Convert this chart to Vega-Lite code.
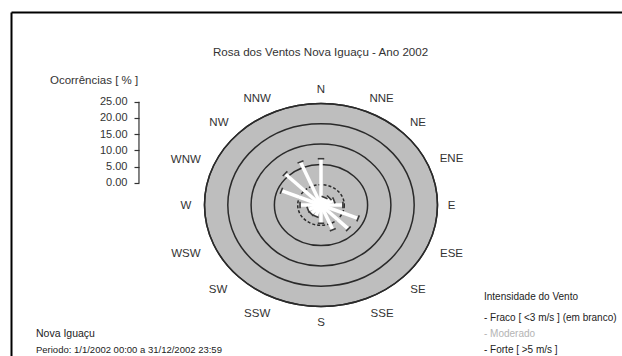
{
  "$schema": "https://vega.github.io/schema/vega-lite/v6.json",
  "width": 611,
  "height": 344,
  "autosize": {"type": "none"},
  "padding": {"left": 11, "top": 12, "right": 0, "bottom": 0},
  "background": "white",
  "config": {
    "font": "Liberation Sans",
    "view": {"stroke": null},
    "text": {"font": "Liberation Sans"}
  },
  "datasets": {
    "aneis": [{"anel": 5}, {"anel": 10}, {"anel": 15}, {"anel": 20}, {"anel": 25}],
    "ventos": [
      {"direcao": "N", "graus": 0, "pct": 11.4, "leste": 0, "norte": 11.4},
      {"direcao": "NNE", "graus": 22.5, "pct": 2.0, "leste": 0.77, "norte": 1.85},
      {"direcao": "NE", "graus": 45, "pct": 2.5, "leste": 1.77, "norte": 1.77},
      {"direcao": "ENE", "graus": 67.5, "pct": 3.0, "leste": 2.77, "norte": 1.15},
      {"direcao": "E", "graus": 90, "pct": 4.7, "leste": 4.7, "norte": 0},
      {"direcao": "ESE", "graus": 112.5, "pct": 8.6, "leste": 7.95, "norte": -3.29},
      {"direcao": "SE", "graus": 135, "pct": 8.3, "leste": 5.87, "norte": -5.87},
      {"direcao": "SSE", "graus": 157.5, "pct": 6.6, "leste": 2.53, "norte": -6.1},
      {"direcao": "S", "graus": 180, "pct": 4.5, "leste": 0, "norte": -4.5},
      {"direcao": "SSW", "graus": 202.5, "pct": 3.0, "leste": -1.15, "norte": -2.77},
      {"direcao": "SW", "graus": 225, "pct": 3.0, "leste": -2.12, "norte": -2.12},
      {"direcao": "WSW", "graus": 247.5, "pct": 3.0, "leste": -2.77, "norte": -1.15},
      {"direcao": "W", "graus": 270, "pct": 4.5, "leste": -4.5, "norte": 0},
      {"direcao": "WNW", "graus": 292.5, "pct": 9.2, "leste": -8.5, "norte": 3.52},
      {"direcao": "NW", "graus": 315, "pct": 10.9, "leste": -7.71, "norte": 7.71},
      {"direcao": "NNW", "graus": 337.5, "pct": 11.5, "leste": -4.4, "norte": 10.62}
    ],
    "rotulos": [
      {"direcao": "N", "x": 0, "y": 28.3},
      {"direcao": "NNE", "x": 13.0, "y": 26.0},
      {"direcao": "NE", "x": 20.8, "y": 20.2},
      {"direcao": "ENE", "x": 28.0, "y": 11.3},
      {"direcao": "E", "x": 28.0, "y": -0.3},
      {"direcao": "ESE", "x": 28.0, "y": -12.1},
      {"direcao": "SE", "x": 20.8, "y": -20.9},
      {"direcao": "SSE", "x": 13.1, "y": -26.8},
      {"direcao": "S", "x": 0, "y": -29.1},
      {"direcao": "SSW", "x": -13.7, "y": -26.8},
      {"direcao": "SW", "x": -22.1, "y": -20.9},
      {"direcao": "WSW", "x": -29.0, "y": -12.1},
      {"direcao": "W", "x": -29.0, "y": -0.3},
      {"direcao": "WNW", "x": -29.0, "y": 11.1},
      {"direcao": "NW", "x": -21.9, "y": 20.2},
      {"direcao": "NNW", "x": -13.7, "y": 26.1}
    ],
    "escala": [{"valor": 0}, {"valor": 5}, {"valor": 10}, {"valor": 15}, {"valor": 20}, {"valor": 25}],
    "intensidades": [
      {"classe": "- Fraco [ <3 m/s ] (em branco)"},
      {"classe": "- Moderado"},
      {"classe": "- Forte [ >5 m/s ]"}
    ]
  },
  "resolve": {"scale": {"y": "independent"}},
  "layer": [
    {
      "data": {"name": "aneis"},
      "transform": [{"filter": "datum.anel == 25"}],
      "mark": {"type": "point", "shape": "M 1 0 C 1 0.4812 0.5523 0.8712 0 0.8712 C -0.5523 0.8712 -1 0.4812 -1 0 C -1 -0.4812 -0.5523 -0.8712 0 -0.8712 C 0.5523 -0.8712 1 -0.4812 1 0 Z", "filled": true, "fill": "#bebebe", "stroke": "#2a2a2a", "strokeWidth": 1.5, "opacity": 1},
      "encoding": {
        "x": {"datum": 0, "type": "quantitative", "scale": {"domain": [-66.52, 64.59], "nice": false, "zero": false}, "axis": {"orient": "top", "domain": true, "domainColor": "#000000", "domainWidth": 2, "ticks": false, "labels": false, "grid": false, "title": null}},
        "y": {"datum": 0, "type": "quantitative", "scale": {"domain": [-37.19, 47.54], "nice": false, "zero": false}, "axis": {"orient": "left", "domain": true, "domainColor": "#000000", "domainWidth": 2, "ticks": false, "labels": false, "grid": false, "title": null}},
        "size": {"field": "anel", "type": "quantitative", "scale": {"type": "pow", "exponent": 2, "domain": [0, 25], "range": [0, 54289]}, "legend": null}
      }
    },
    {
      "data": {"name": "aneis"},
      "transform": [{"filter": "datum.anel > 5"}],
      "mark": {"type": "point", "shape": "M 1 0 C 1 0.4812 0.5523 0.8712 0 0.8712 C -0.5523 0.8712 -1 0.4812 -1 0 C -1 -0.4812 -0.5523 -0.8712 0 -0.8712 C 0.5523 -0.8712 1 -0.4812 1 0 Z", "filled": false, "stroke": "#2a2a2a", "strokeWidth": 1.5, "opacity": 1},
      "encoding": {
        "x": {"datum": 0, "type": "quantitative", "scale": {"domain": [-66.52, 64.59], "nice": false, "zero": false}, "axis": {"orient": "top", "domain": true, "domainColor": "#000000", "domainWidth": 2, "ticks": false, "labels": false, "grid": false, "title": null}},
        "y": {"datum": 0, "type": "quantitative", "scale": {"domain": [-37.19, 47.54], "nice": false, "zero": false}, "axis": null},
        "size": {"field": "anel", "type": "quantitative", "scale": {"type": "pow", "exponent": 2, "domain": [0, 25], "range": [0, 54289]}, "legend": null}
      }
    },
    {
      "data": {"name": "aneis"},
      "transform": [{"filter": "datum.anel == 5"}],
      "mark": {"type": "point", "shape": "M 1 0 C 1 0.4812 0.5523 0.8712 0 0.8712 C -0.5523 0.8712 -1 0.4812 -1 0 C -1 -0.4812 -0.5523 -0.8712 0 -0.8712 C 0.5523 -0.8712 1 -0.4812 1 0 Z", "filled": false, "stroke": "#2a2a2a", "strokeWidth": 1.5, "strokeDash": [3, 2], "opacity": 1},
      "encoding": {
        "x": {"datum": 0, "type": "quantitative", "scale": {"domain": [-66.52, 64.59], "nice": false, "zero": false}, "axis": {"orient": "top", "domain": true, "domainColor": "#000000", "domainWidth": 2, "ticks": false, "labels": false, "grid": false, "title": null}},
        "y": {"datum": 0, "type": "quantitative", "scale": {"domain": [-37.19, 47.54], "nice": false, "zero": false}, "axis": null},
        "size": {"field": "anel", "type": "quantitative", "scale": {"type": "pow", "exponent": 2, "domain": [0, 25], "range": [0, 54289]}, "legend": null}
      }
    },
    {
      "data": {"name": "ventos"},
      "mark": {"type": "rule", "strokeWidth": 3.5, "stroke": "#ffffff"},
      "encoding": {
        "x": {"field": "leste", "type": "quantitative", "scale": {"domain": [-66.52, 64.59], "nice": false, "zero": false}, "axis": {"orient": "top", "domain": true, "domainColor": "#000000", "domainWidth": 2, "ticks": false, "labels": false, "grid": false, "title": null}},
        "y": {"field": "norte", "type": "quantitative", "scale": {"domain": [-37.19, 47.54], "nice": false, "zero": false}, "axis": null},
        "x2": {"datum": 0},
        "y2": {"datum": 0}
      }
    },
    {
      "data": {"name": "ventos"},
      "mark": {"type": "point", "shape": "stroke", "filled": false, "stroke": "#3a3a3a", "strokeWidth": 1.6, "size": 42, "opacity": 1},
      "encoding": {
        "x": {"field": "leste", "type": "quantitative", "scale": {"domain": [-66.52, 64.59], "nice": false, "zero": false}, "axis": {"orient": "top", "domain": true, "domainColor": "#000000", "domainWidth": 2, "ticks": false, "labels": false, "grid": false, "title": null}},
        "y": {"field": "norte", "type": "quantitative", "scale": {"domain": [-37.19, 47.54], "nice": false, "zero": false}, "axis": null},
        "angle": {"field": "graus", "type": "quantitative", "scale": {"domain": [0, 360], "range": [0, 360]}, "legend": null}
      }
    },
    {
      "data": {"values": [{"calmaria": "centro"}]},
      "mark": {"type": "point", "shape": "circle", "filled": true, "fill": "#ffffff", "size": 190, "opacity": 1, "strokeWidth": 0},
      "encoding": {
        "x": {"datum": 0, "type": "quantitative", "scale": {"domain": [-66.52, 64.59], "nice": false, "zero": false}, "axis": {"orient": "top", "domain": true, "domainColor": "#000000", "domainWidth": 2, "ticks": false, "labels": false, "grid": false, "title": null}},
        "y": {"datum": 0, "type": "quantitative", "scale": {"domain": [-37.19, 47.54], "nice": false, "zero": false}, "axis": null}
      }
    },
    {
      "data": {"name": "rotulos"},
      "mark": {"type": "text", "fontSize": 11.5, "fill": "#333333", "align": "center", "baseline": "middle"},
      "encoding": {
        "x": {"field": "x", "type": "quantitative", "scale": {"domain": [-66.52, 64.59], "nice": false, "zero": false}, "axis": {"orient": "top", "domain": true, "domainColor": "#000000", "domainWidth": 2, "ticks": false, "labels": false, "grid": false, "title": null}},
        "y": {"field": "y", "type": "quantitative", "scale": {"domain": [-37.19, 47.54], "nice": false, "zero": false}, "axis": null},
        "text": {"field": "direcao"}
      }
    },
    {
      "data": {"values": [{"texto": "Rosa dos Ventos Nova Iguaçu - Ano 2002"}]},
      "mark": {"type": "text", "fontSize": 11.6, "fill": "#333333", "align": "center", "baseline": "middle"},
      "encoding": {
        "x": {"datum": -0.1, "type": "quantitative", "scale": {"domain": [-66.52, 64.59], "nice": false, "zero": false}, "axis": {"orient": "top", "domain": true, "domainColor": "#000000", "domainWidth": 2, "ticks": false, "labels": false, "grid": false, "title": null}},
        "y": {"datum": 37.5, "type": "quantitative", "scale": {"domain": [-37.19, 47.54], "nice": false, "zero": false}, "axis": null},
        "text": {"field": "texto"}
      }
    },
    {
      "data": {"values": [{"texto": "Ocorrências [ % ]"}]},
      "mark": {"type": "text", "fontSize": 11.5, "fill": "#333333", "align": "center", "baseline": "middle"},
      "encoding": {
        "x": {"datum": -48.7, "type": "quantitative", "scale": {"domain": [-66.52, 64.59], "nice": false, "zero": false}, "axis": {"orient": "top", "domain": true, "domainColor": "#000000", "domainWidth": 2, "ticks": false, "labels": false, "grid": false, "title": null}},
        "y": {"datum": 30.6, "type": "quantitative", "scale": {"domain": [-37.19, 47.54], "nice": false, "zero": false}, "axis": null},
        "text": {"field": "texto"}
      }
    },
    {
      "data": {"values": [{"texto": "Nova Iguaçu"}]},
      "mark": {"type": "text", "fontSize": 10.5, "fill": "#222222", "align": "left", "baseline": "middle"},
      "encoding": {
        "x": {"datum": -61.16, "type": "quantitative", "scale": {"domain": [-66.52, 64.59], "nice": false, "zero": false}, "axis": {"orient": "top", "domain": true, "domainColor": "#000000", "domainWidth": 2, "ticks": false, "labels": false, "grid": false, "title": null}},
        "y": {"datum": -31.8, "type": "quantitative", "scale": {"domain": [-37.19, 47.54], "nice": false, "zero": false}, "axis": null},
        "text": {"field": "texto"}
      }
    },
    {
      "data": {"values": [{"texto": "Periodo: 1/1/2002 00:00 a 31/12/2002 23:59"}]},
      "mark": {"type": "text", "fontSize": 9.5, "fill": "#222222", "align": "left", "baseline": "middle"},
      "encoding": {
        "x": {"datum": -61.16, "type": "quantitative", "scale": {"domain": [-66.52, 64.59], "nice": false, "zero": false}, "axis": {"orient": "top", "domain": true, "domainColor": "#000000", "domainWidth": 2, "ticks": false, "labels": false, "grid": false, "title": null}},
        "y": {"datum": -35.6, "type": "quantitative", "scale": {"domain": [-37.19, 47.54], "nice": false, "zero": false}, "axis": null},
        "text": {"field": "texto"}
      }
    },
    {
      "data": {"name": "intensidades"},
      "mark": {"type": "point", "opacity": 0},
      "encoding": {
        "x": {"datum": 0, "type": "quantitative", "scale": {"domain": [-66.52, 64.59], "nice": false, "zero": false}, "axis": {"orient": "top", "domain": true, "domainColor": "#000000", "domainWidth": 2, "ticks": false, "labels": false, "grid": false, "title": null}},
        "y": {"datum": 0, "type": "quantitative", "scale": {"domain": [-37.19, 47.54], "nice": false, "zero": false}, "axis": null},
        "color": {
          "field": "classe",
          "type": "nominal",
          "sort": null,
          "scale": {"domain": ["- Fraco [ <3 m/s ] (em branco)", "- Moderado", "- Forte [ >5 m/s ]"], "range": ["#ffffff", "#bebebe", "#3a3a3a"]},
          "legend": {
            "title": "Intensidade do Vento",
            "orient": "none",
            "legendX": 473,
            "legendY": 280,
            "padding": 0,
            "titleFontSize": 10,
            "titleFontWeight": "normal",
            "titleColor": "#222222",
            "titleFont": "Liberation Sans",
            "titlePadding": 11,
            "labelFont": "Liberation Sans",
            "labelFontSize": 10,
            "labelColor": {"expr": "datum.label == '- Moderado' ? '#b4b4b4' : '#222222'"},
            "labelLimit": 300,
            "labelOffset": -10,
            "symbolOpacity": 0,
            "symbolSize": 0,
            "symbolStrokeWidth": 0,
            "rowPadding": 6
          }
        }
      }
    },
    {
      "data": {"name": "escala"},
      "mark": {"type": "point", "opacity": 0},
      "encoding": {
        "x": {"datum": -39.06, "type": "quantitative", "scale": {"domain": [-66.52, 64.59], "nice": false, "zero": false}, "axis": {"orient": "top", "domain": true, "domainColor": "#000000", "domainWidth": 2, "ticks": false, "labels": false, "grid": false, "title": null}},
        "y": {
          "field": "valor",
          "type": "quantitative",
          "scale": {"domain": [-53.23, 52.6], "nice": false, "zero": false},
          "axis": {
            "orient": "left",
            "offset": -128,
            "values": [0, 5, 10, 15, 20, 25],
            "format": ".2f",
            "domain": false,
            "grid": false,
            "ticks": true,
            "tickSize": 5,
            "tickColor": "#333333",
            "tickWidth": 1.2,
            "labelColor": "#333333",
            "labelFont": "Liberation Sans",
            "labelFontSize": 11,
            "labelPadding": 7,
            "title": null
          }
        }
      }
    },
    {
      "data": {"values": [{"de": 0, "ate": 25}]},
      "mark": {"type": "rule", "stroke": "#333333", "strokeWidth": 1.2},
      "encoding": {
        "x": {"datum": -39.06, "type": "quantitative", "scale": {"domain": [-66.52, 64.59], "nice": false, "zero": false}, "axis": {"orient": "top", "domain": true, "domainColor": "#000000", "domainWidth": 2, "ticks": false, "labels": false, "grid": false, "title": null}},
        "y": {"field": "de", "type": "quantitative", "scale": {"domain": [-53.23, 52.6], "nice": false, "zero": false}, "axis": null},
        "y2": {"field": "ate"}
      }
    }
  ]
}
